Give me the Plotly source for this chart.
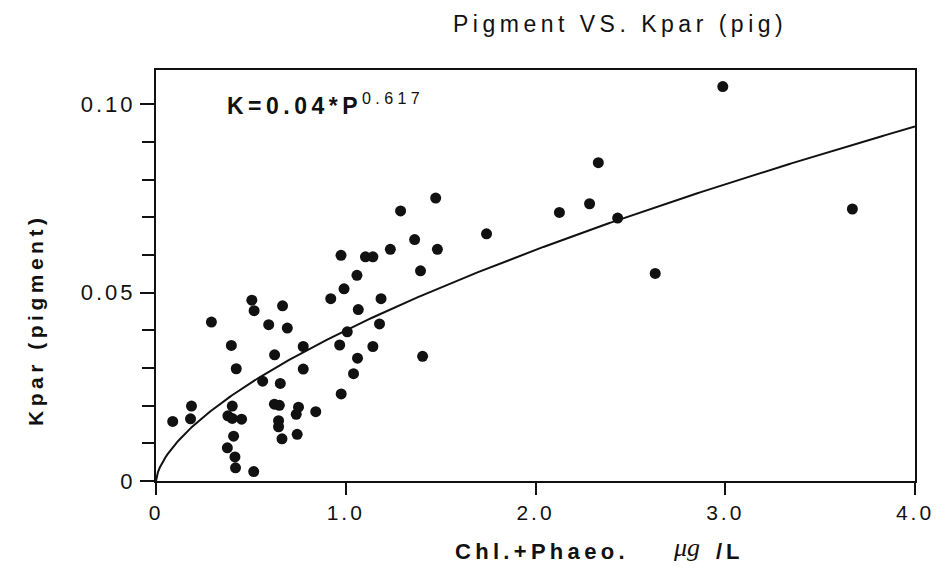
import numpy as np
import plotly.graph_objects as go

# Data
pigment = [0.088, 0.182, 0.187, 0.292, 0.397, 0.402, 0.379, 0.402, 0.451, 0.409,
           0.376, 0.416, 0.419, 0.515, 0.423, 0.505, 0.517, 0.594, 0.667, 0.692,
           0.625, 0.562, 0.655, 0.624, 0.650, 0.646, 0.646, 0.664, 0.751, 0.739,
           0.744, 0.842, 0.776, 0.776, 0.921, 0.991, 0.968, 0.976, 1.008, 1.062,
           1.041, 1.066, 1.143, 1.178, 1.186, 1.474, 1.289, 1.742, 1.363, 1.483,
           1.235, 1.104, 1.143, 0.975, 1.394, 1.059, 1.405, 2.987, 2.331, 2.285,
           2.126, 2.433, 2.631, 3.670]
kpar = [0.0158, 0.0165, 0.0199, 0.0422, 0.0360, 0.0199, 0.0173, 0.0166, 0.0164, 0.0119,
        0.0088, 0.0064, 0.0035, 0.0025, 0.0298, 0.0480, 0.0452, 0.0415, 0.0465, 0.0406,
        0.0335, 0.0265, 0.0259, 0.0204, 0.0201, 0.0160, 0.0144, 0.0112, 0.0196, 0.0177,
        0.0124, 0.0184, 0.0297, 0.0357, 0.0484, 0.0510, 0.0361, 0.0231, 0.0396, 0.0326,
        0.0285, 0.0455, 0.0357, 0.0417, 0.0484, 0.0751, 0.0717, 0.0656, 0.0641, 0.0615,
        0.0615, 0.0595, 0.0595, 0.0599, 0.0558, 0.0546, 0.0331, 0.1047, 0.0845, 0.0736,
        0.0713, 0.0698, 0.0551, 0.0722]

fit_coef = 0.04
fit_exp = 0.617
x_tickvals = [0, 1, 2, 3, 4]
x_ticktext = ["0", "1.0", "2.0", "3.0", "4.0"]
y_tickvals = [0, 0.05, 0.10]
y_ticktext = ["0", "0.05", "0.10"]

curve_x = np.linspace(0, 4, 400)
curve_y = fit_coef * curve_x ** fit_exp

FONT = "Liberation Sans, Arial, sans-serif"


def spaced(text, px):
    return f"<span style=\"letter-spacing:{px}px\">{text}</span>"


fig = go.Figure()
fig.add_trace(go.Scatter(x=curve_x, y=curve_y, mode="lines",
                         line=dict(color="#111111", width=2), hoverinfo="skip"))
fig.add_trace(go.Scatter(x=pigment, y=kpar, mode="markers",
                         marker=dict(color="#111111", size=11, line=dict(width=0))))

L, R, T, B = 156, 25, 70, 90
W, H = 946, 571
pw = W - L - R
ph = H - T - B


def px_to_paper_x(px):
    return (px - L) / pw


def px_to_paper_y(py):
    return (H - B - py) / ph


fig.update_layout(
    width=W, height=H,
    margin=dict(l=L, r=R, t=T, b=B),
    paper_bgcolor="white", plot_bgcolor="white",
    showlegend=False,
    font=dict(family=FONT, color="#111111", size=20),
    xaxis=dict(range=[0, 4], tickvals=x_tickvals,
               ticktext=[spaced(t, 3) for t in x_ticktext],
               showgrid=False, zeroline=False, showline=True, mirror=True,
               linecolor="#111111", linewidth=2, ticks="outside", ticklen=12,
               tickwidth=2, tickcolor="#111111",
               tickfont=dict(family=FONT, size=21, color="#111111")),
    yaxis=dict(range=[0, 0.1091], tickvals=y_tickvals,
               ticktext=[spaced(t, 3) for t in y_ticktext],
               showgrid=False, zeroline=False, showline=True, mirror=True,
               linecolor="#111111", linewidth=2, ticks="outside", ticklen=14,
               tickwidth=2, tickcolor="#111111",
               tickfont=dict(family=FONT, size=22, color="#111111"),
               minor=dict(dtick=0.01, tick0=0, ticks="outside", ticklen=12,
                          tickwidth=2, tickcolor="#111111", showgrid=False)),
    annotations=[
        dict(text=spaced("Pigment VS. Kpar (pig)", 4.5), xref="paper", yref="paper",
             x=px_to_paper_x(624), y=px_to_paper_y(24), xanchor="center",
             yanchor="middle", showarrow=False,
             font=dict(family=FONT, size=23, color="#111111")),
        dict(text="<b>" + spaced("Kpar (pigment)", 4.5) + "</b>", xref="paper", yref="paper",
             x=px_to_paper_x(34), y=px_to_paper_y(320), xanchor="center",
             yanchor="middle", textangle=-90, showarrow=False,
             font=dict(family=FONT, size=21, color="#111111")),
        dict(text="<b>" + spaced("Chl.+Phaeo.", 4.3) + "</b>",
             xref="paper", yref="paper",
             x=px_to_paper_x(455), y=px_to_paper_y(551), xanchor="left",
             yanchor="middle", showarrow=False,
             font=dict(family=FONT, size=22, color="#111111")),
        dict(text="<i>μg</i>",
             xref="paper", yref="paper",
             x=px_to_paper_x(675), y=px_to_paper_y(547), xanchor="left",
             yanchor="middle", showarrow=False,
             font=dict(family="Liberation Serif, serif", size=26, color="#111111")),
        dict(text="<b>" + spaced("/L", 4) + "</b>",
             xref="paper", yref="paper",
             x=px_to_paper_x(718), y=px_to_paper_y(551), xanchor="left",
             yanchor="middle", showarrow=False,
             font=dict(family=FONT, size=22, color="#111111")),
        dict(text="<b>" + spaced("K=0.04*P", 4.5) + "</b><sup>" + spaced("0.617", 4.3) + "</sup>",
             xref="paper", yref="paper",
             x=px_to_paper_x(226), y=px_to_paper_y(104), xanchor="left",
             yanchor="middle", showarrow=False,
             font=dict(family=FONT, size=23, color="#111111")),
    ],
)

fig.write_html("out.html")
